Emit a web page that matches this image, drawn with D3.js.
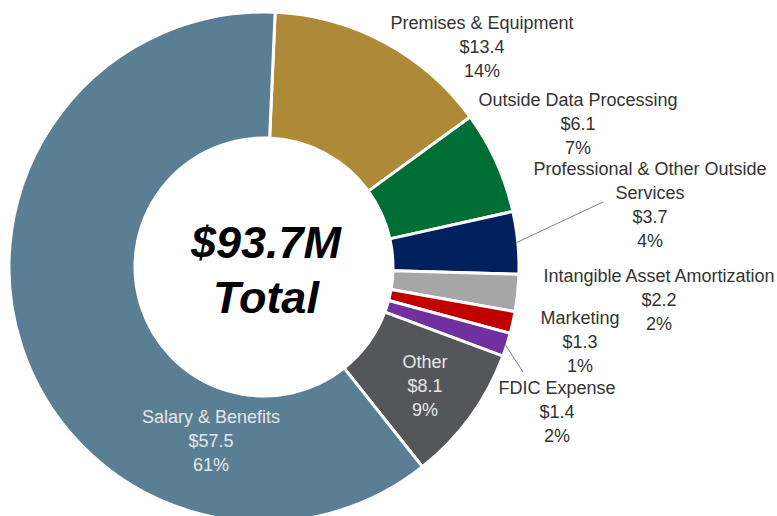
<!DOCTYPE html>
<html>
<head>
<meta charset="utf-8">
<script src="https://cdn.jsdelivr.net/npm/d3@7"></script>
<style>
  html, body { margin: 0; padding: 0; background: #ffffff; }
  svg { display: block; }
</style>
</head>
<body>
<div id="chart"></div>
<script>
// ---- Data ----
const categories = ["Premises & Equipment", "Outside Data Processing", "Professional & Other Outside Services",
  "Intangible Asset Amortization", "Marketing", "FDIC Expense", "Other", "Salary & Benefits"];
const values = [13.4, 6.1, 3.7, 2.2, 1.3, 1.4, 8.1, 57.5];
const percentLabels = ["14%", "7%", "4%", "2%", "1%", "2%", "9%", "61%"];
const nameLines = [["Premises & Equipment"], ["Outside Data Processing"], ["Professional & Other Outside", "Services"],
  ["Intangible Asset Amortization"], ["Marketing"], ["FDIC Expense"], ["Other"], ["Salary & Benefits"]];
const colors = ["#AE8A38", "#006F35", "#00205E", "#A6A6A6", "#C00000", "#7030A0", "#55565A", "#5A7F95"];
const totalLabel = ["$93.7M", "Total"];

// ---- Layout (positions / styling) ----
const W = 777, H = 516;
const cx = 264, cy = 267, R = 255, r0 = 129;
const startOffset = 2.5 * Math.PI / 180;
// label anchor: center x, first baseline y, inside flag, optional leader end point
const labelLayout = [
  { x: 482, y: 29 },
  { x: 578, y: 106 },
  { x: 650, y: 175, leader: [603, 202] },
  { x: 659, y: 282 },
  { x: 580, y: 324 },
  { x: 557, y: 394, leader: [523, 372] },
  { x: 425, y: 368, inside: true },
  { x: 211, y: 423, inside: true }
];
const lineH = 24;

const svg = d3.select("#chart").append("svg").attr("width", W).attr("height", H);
const g = svg.append("g").attr("transform", `translate(${cx},${cy})`);

const pie = d3.pie().sort(null).value(d => d)
  .startAngle(startOffset).endAngle(startOffset + 2 * Math.PI);
const arcs = pie(values);
const arc = d3.arc().innerRadius(r0).outerRadius(R);

g.selectAll("path.slice").data(arcs).join("path")
  .attr("class", "slice")
  .attr("d", arc)
  .attr("fill", (d, i) => colors[i])
  .attr("stroke", "#ffffff")
  .attr("stroke-width", 3)
  .attr("stroke-linejoin", "round");

// leader lines
const edgeArc = d3.arc().innerRadius(R - 2).outerRadius(R - 2);
arcs.forEach((d, i) => {
  const L = labelLayout[i];
  if (!L.leader) return;
  const c = edgeArc.centroid(d);
  svg.append("line")
    .attr("x1", cx + c[0]).attr("y1", cy + c[1])
    .attr("x2", L.leader[0]).attr("y2", L.leader[1])
    .attr("stroke", "#808080").attr("stroke-width", 1);
});

// labels
arcs.forEach((d, i) => {
  const L = labelLayout[i];
  const lines = nameLines[i].concat(["$" + values[i].toFixed(1), percentLabels[i]]);
  const t = svg.append("text")
    .attr("text-anchor", "middle")
    .attr("font-family", "'Liberation Sans', Arial, sans-serif")
    .attr("font-size", 18)
    .attr("fill", L.inside ? "#E6E6E6" : "#333333");
  lines.forEach((s, k) => {
    t.append("tspan").attr("x", L.x).attr("y", L.y + k * lineH).text(s);
  });
});

// center total
const ct = svg.append("text")
  .attr("text-anchor", "middle")
  .attr("font-family", "'Liberation Sans', Arial, sans-serif")
  .attr("font-size", 45)
  .attr("font-weight", "bold")
  .attr("font-style", "italic")
  .attr("fill", "#000000");
ct.append("tspan").attr("x", 266).attr("y", 258).text(totalLabel[0]);
ct.append("tspan").attr("x", 266).attr("y", 313).text(totalLabel[1]);
</script>
</body>
</html>
